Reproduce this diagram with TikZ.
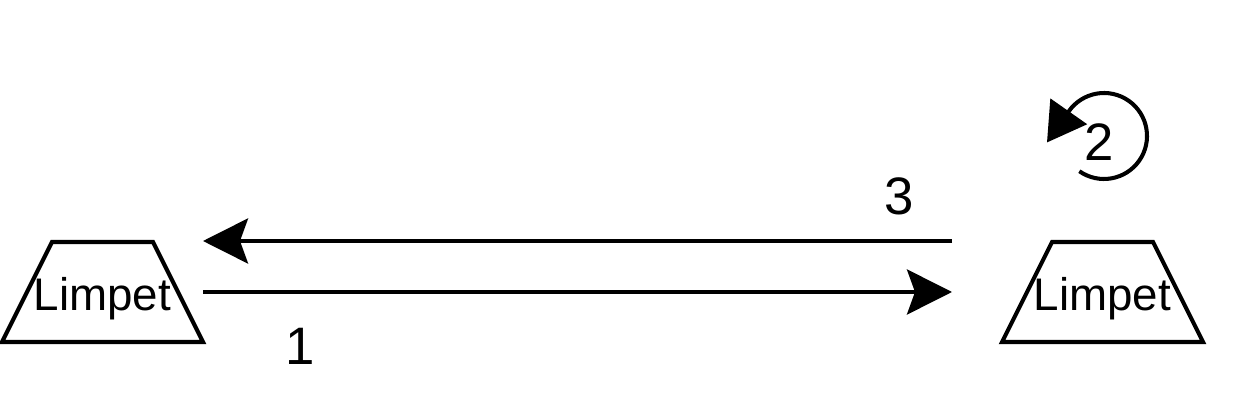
\documentclass[tikz,border=0pt]{standalone}
\usepackage{fontspec}
\setmainfont{Liberation Sans}
\usetikzlibrary{arrows.meta}
\begin{document}
\begin{tikzpicture}[>={Stealth[length=0.9cm,width=0.9cm,inset=0.16cm]}]
% Stili per i nodi e le linee
\tikzset{limpet/.style={inner sep=0pt,text depth=0pt,font=\fontsize{26}{30}\selectfont}}
\tikzset{linea/.style={line width=2.3pt}}
\tikzset{numero/.style={font=\fontsize{30}{36}\selectfont,inner sep=0pt}}

\useasboundingbox (0,0) rectangle (25,8);

% I due limpet (testo e trapezio)
\node[limpet] (L) at (2.05,2.12) {Limpet};
\node[limpet] (R) at (22.05,2.12) {Limpet};
\draw[linea, line join=miter] (L.center) ++(-2.01,-0.96) -- ++(4.02,0) -- ++(-1.0,2) -- ++(-2.02,0) -- cycle;
\draw[linea, line join=miter] (R.center) ++(-2.01,-0.96) -- ++(4.02,0) -- ++(-1.0,2) -- ++(-2.02,0) -- cycle;

% Estremi delle frecce
\coordinate (A1) at (4.06,2.16);
\coordinate (B1) at (19.04,2.16);
\coordinate (A3) at (19.04,3.18);
\coordinate (B3) at (4.06,3.18);
\coordinate (C2) at (22.08,5.28);

% --- FRECCE ---
\draw[->, linea] (A1) -- (B1);
\draw[->, linea] (A3) -- (B3);

% Freccia circolare sopra il limpet di destra
\draw[-{Triangle[length=0.76cm,width=0.88cm]}, linea]
    (C2) ++(235:0.86) arc[start angle=235, end angle=505, radius=0.86] -- ++(235:0.76);

% Etichette dei passi
\node[numero] (n1) at (6.0,1.08) {1};
\node[numero] (n2) at (21.98,5.16) {2};
\node[numero] (n3) at (17.98,4.08) {3};

\end{tikzpicture}
\end{document}
